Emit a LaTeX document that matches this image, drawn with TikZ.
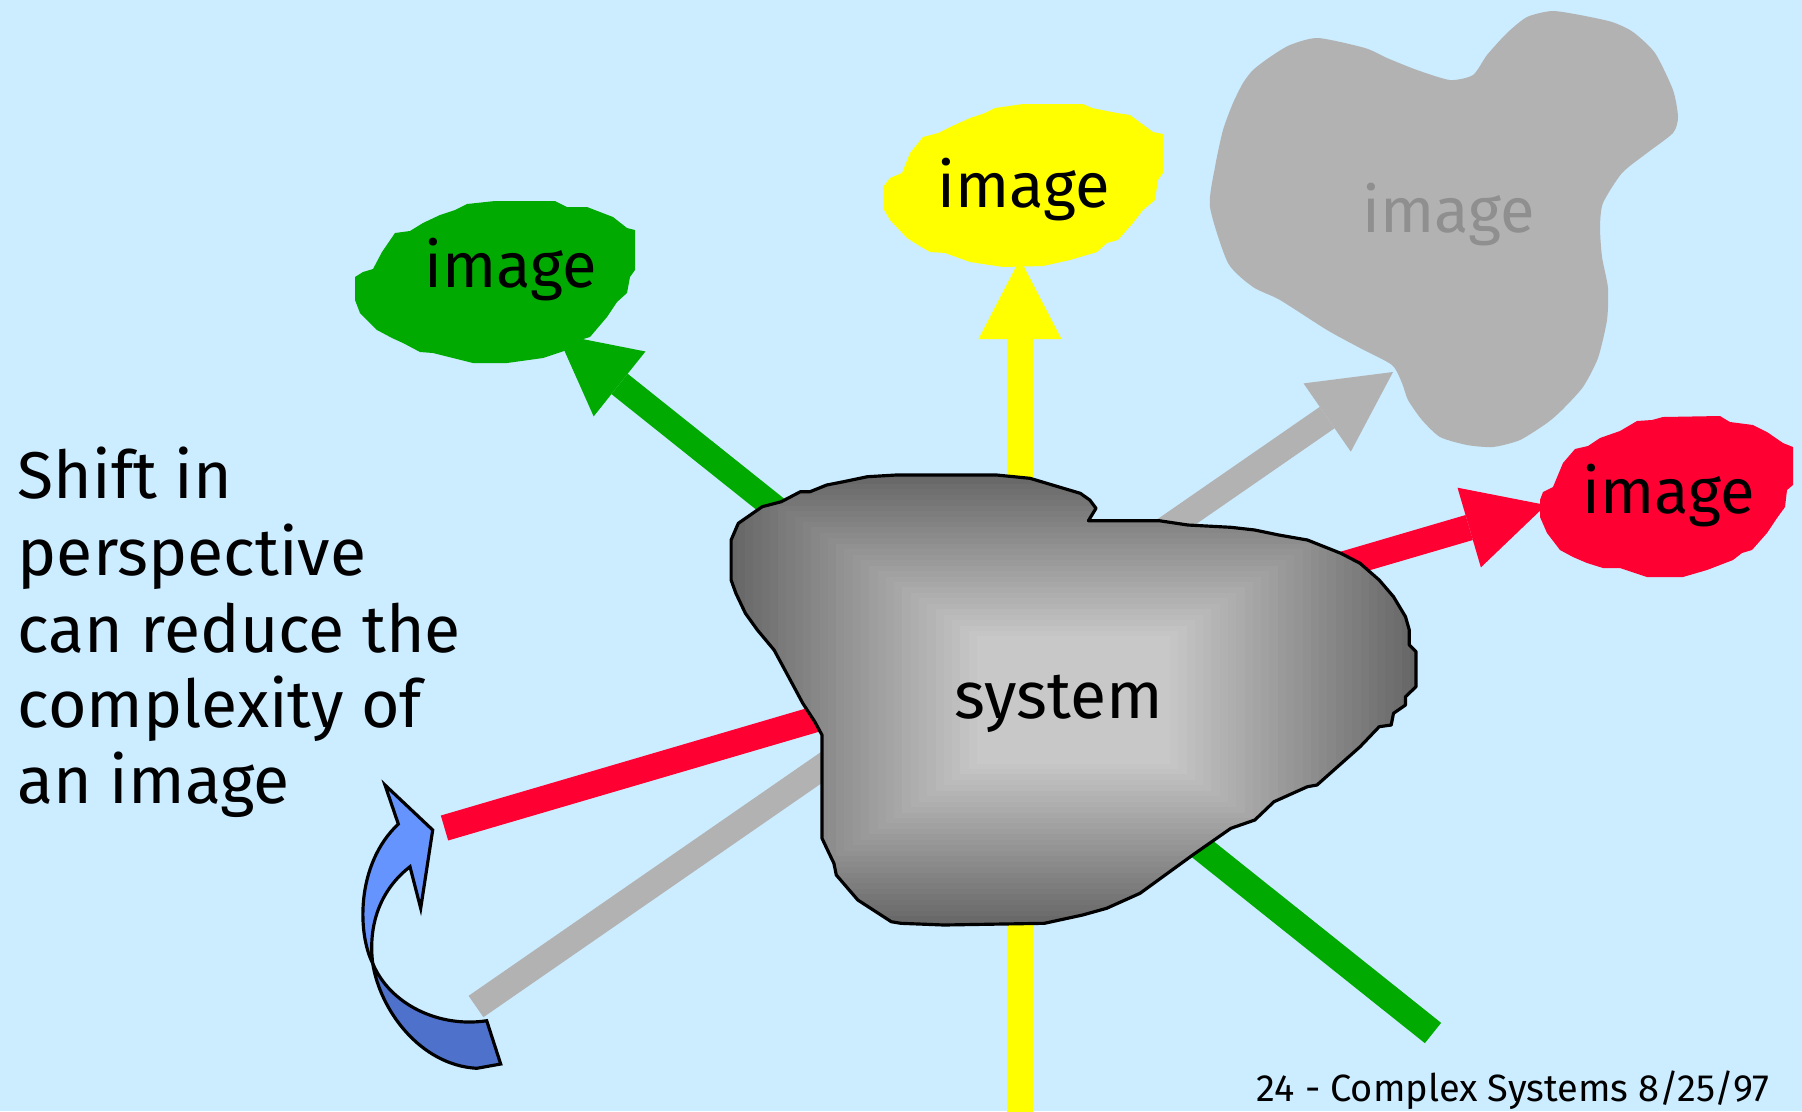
\documentclass[tikz,border=0pt]{standalone}
\usepackage{fontspec}
\setmainfont{Fira Sans}
\usetikzlibrary{arrows.meta}
\definecolor{bg}{RGB}{204,236,255}
\definecolor{pgreen}{RGB}{0,170,0}
\definecolor{pred}{RGB}{255,0,51}
\definecolor{pyellow}{RGB}{255,255,0}
\definecolor{pgrey}{RGB}{178,178,178}
\definecolor{pgreytext}{RGB}{143,143,143}
\definecolor{blueL}{RGB}{102,148,255}
\definecolor{blueD}{RGB}{78,114,204}
\definecolor{sysdark}{RGB}{102,102,102}
\definecolor{syslight}{RGB}{200,200,200}
\begin{document}
\begin{tikzpicture}[x=0.01cm,y=-0.01cm,
  ray/.style={line width=0.26cm, -{Triangle[length=0.8cm,width=0.83cm,line width=0pt]}},
  bigtext/.style={font=\fontsize{18.8pt}{22pt}\selectfont, inner sep=0pt},
  labeltext/.style={font=\fontsize{18pt}{22pt}\selectfont, inner sep=0pt},
  smalltext/.style={font=\fontsize{10.8pt}{13pt}\selectfont, inner sep=0pt},
  bluearrow/.style={draw=black, line width=0.9pt, line join=miter}]

% background
\fill[bg] (0,0) rectangle (1802,1111);
\useasboundingbox (0,0) rectangle (1802,1111);

% ray end points
\coordinate (yEnd) at (1020,1120);
\coordinate (yTip) at (1020,259);
\coordinate (gEnd) at (1433,1033);
\coordinate (gTip) at (557,334);
\coordinate (grEnd) at (476,1006.5);
\coordinate (grTip) at (1393,372);
\coordinate (rEnd) at (444.5,828);
\coordinate (rTip) at (1546,505);

% rays
\draw[ray, pyellow] (yEnd) -- (yTip);
\draw[ray, pgreen] (gEnd) -- (gTip);
\draw[ray, pgrey] (grEnd) -- (grTip);
\draw[ray, pred] (rEnd) -- (rTip);

% system blob
\path[save path=\sysp] (867.4,476.7) -- (896.1,475) -- (996.6,475) -- (1030.0,478.3) -- (1063.5,488.3) -- (1080.3,493.3) -- (1089.8,500) -- (1096.0,508.3) -- (1088.4,520.7) -- (1159.2,520.7) -- (1187.9,525) -- (1230.9,527.3) -- (1254.8,530) -- (1278.8,535) -- (1307.4,540) -- (1340.9,553.3) -- (1360.1,563.3) -- (1379.2,580) -- (1393.5,596.7) -- (1405.5,616.7) -- (1409.3,630) -- (1409.3,645) -- (1416.0,651.7) -- (1416.0,686.7) -- (1405.5,696.7) -- (1405.5,705) -- (1393.5,713.3) -- (1391.2,725) -- (1379.2,726.7) -- (1360.1,746.7) -- (1317.0,785) -- (1307.4,786.7) -- (1274.0,801.7) -- (1254.8,820) -- (1230.9,828.3) -- (1192.7,855) -- (1140.0,893.3) -- (1106.6,908.3) -- (1082.6,915) -- (1044.4,923.3) -- (943.9,925) -- (900.9,923.3) -- (891.3,921.7) -- (857.8,900) -- (836.3,875) -- (833.9,863.3) -- (829.1,853.3) -- (822.0,838.3) -- (822.0,735) -- (814.8,721.7) -- (802.8,703.3) -- (788.5,676.7) -- (774.1,650) -- (757.4,630) -- (745.4,613.3) -- (735.9,593.3) -- (731.1,580) -- (731.1,540) -- (738.3,523.3) -- (762.2,506.7) -- (781.3,501.7) -- (800.4,491.7) -- (810.0,491.7) -- (826.7,485) -- (843.5,481.7) -- cycle;
\begin{scope}
  \clip[use path=\sysp];
  \foreach \i in {0,...,30} {
    \pgfmathsetmacro\s{1-\i*0.024}
    \pgfmathsetmacro\p{\i*100/30}
    \fill[syslight!\p!sysdark] ({1073.5-\s*345},{700-\s*227}) rectangle ({1073.5+\s*345},{700+\s*227});
  }
\end{scope}
\draw[use path=\sysp, black, line width=0.9pt, line join=round];
\node[bigtext, anchor=base] (system) at (1059,718) {system};

% green image blob
\fill[pgreen] (355,283) -- (355,277) -- (363,272) -- (373,269) -- (382,252) -- (395,233) -- (410,231) -- (423,223) -- (440,215) -- (455,210) -- (467,204) -- (495,201) -- (555,201) -- (567,207) -- (587,207) -- (600,212) -- (613,217) -- (627,228) -- (635,230) -- (635,270) -- (630,277) -- (627,293) -- (617,302) -- (607,317) -- (590,337) -- (580,340) -- (567,350) -- (543,358) -- (507,363) -- (473,363) -- (433,353) -- (420,352) -- (403,343) -- (392,338) -- (377,330) -- (360,313) -- (355,300) -- cycle;
\node[labeltext, anchor=base] (imgGreen) at (511,287) {image};

% yellow image blob
\fill[pyellow] (883,187) -- (890,178) -- (902,173) -- (910,153) -- (923,137) -- (938,133) -- (948,128) -- (970,118) -- (985,113) -- (995,108) -- (1023,104) -- (1083,104) -- (1092,108) -- (1117,113) -- (1130,115) -- (1153,132) -- (1163,134) -- (1163,173) -- (1158,180) -- (1155,200) -- (1143,210) -- (1133,223) -- (1118,240) -- (1107,243) -- (1097,252) -- (1070,260) -- (1043,266) -- (1003,267) -- (970,262) -- (945,253) -- (930,252) -- (918,245) -- (907,238) -- (890,220) -- (883,208) -- cycle;
\node[labeltext, anchor=base] (imgYellow) at (1024,207) {image};

% grey image blob
\fill[pgrey] plot[smooth cycle, tension=0.4] coordinates {(1210,207) (1215,167) (1223,130) (1233,103) (1243,83) (1253,70) (1270,57) (1290,45) (1318,38) (1365,48) (1387,58) (1417,70) (1450,80) (1473,75) (1487,55) (1507,33) (1527,17) (1552,11) (1580,15) (1612,22) (1633,32) (1655,53) (1673,90) (1678,117) (1673,133) (1647,153) (1622,173) (1603,203) (1600,227) (1602,257) (1608,288) (1607,320) (1598,358) (1583,387) (1562,410) (1547,423) (1520,440) (1493,447) (1467,445) (1440,437) (1422,420) (1408,400) (1402,383) (1392,365) (1360,348) (1327,330) (1280,300) (1253,287) (1228,263)};
\node[labeltext, anchor=base, text=pgreytext] (imgGrey) at (1449,232) {image};

% red image blob
\fill[pred] (1540,500) -- (1543,492) -- (1553,487) -- (1563,463) -- (1575,449) -- (1588,446) -- (1600,438) -- (1620,431) -- (1637,421) -- (1652,420) -- (1663,417) -- (1720,416) -- (1730,422) -- (1753,425) -- (1767,432) -- (1783,443) -- (1793,447) -- (1793,485) -- (1787,490) -- (1785,507) -- (1777,518) -- (1767,533) -- (1752,550) -- (1742,553) -- (1733,560) -- (1707,570) -- (1683,577) -- (1647,577) -- (1620,568) -- (1603,568) -- (1587,563) -- (1573,557) -- (1560,550) -- (1547,533) -- (1540,517) -- cycle;
\node[labeltext, anchor=base] (imgRed) at (1669,513) {image};

% curved blue arrow
\filldraw[bluearrow, fill=blueD] (372.7,963.3) .. controls (380,1010) and (420,1065) .. (476.7,1068.3) -- (500.7,1064) -- (486.7,1020.7) .. controls (440,1028) and (390,1005) .. (372.7,963.3) -- cycle;
\filldraw[bluearrow, fill=blueL] (385,785) -- (432.7,830) -- (420.7,908.3) -- (410,866.7) .. controls (380,890) and (368,925) .. (372.7,963.3) .. controls (358,935) and (355,865) .. (398.3,824) -- cycle;

% left text
\node[bigtext, anchor=base west] (t1) at (17,498) {Shift in};
\node[bigtext, anchor=base west] (t2) at (17,575) {perspective};
\node[bigtext, anchor=base west] (t3) at (17,652) {can reduce the};
\node[bigtext, anchor=base west] (t4) at (17,727) {complexity of};
\node[bigtext, anchor=base west] (t5) at (17,803) {an image};

% footer
\node[smalltext, anchor=base east] (footer) at (1770,1101) {24 - Complex Systems 8/25/97};
\end{tikzpicture}
\end{document}
